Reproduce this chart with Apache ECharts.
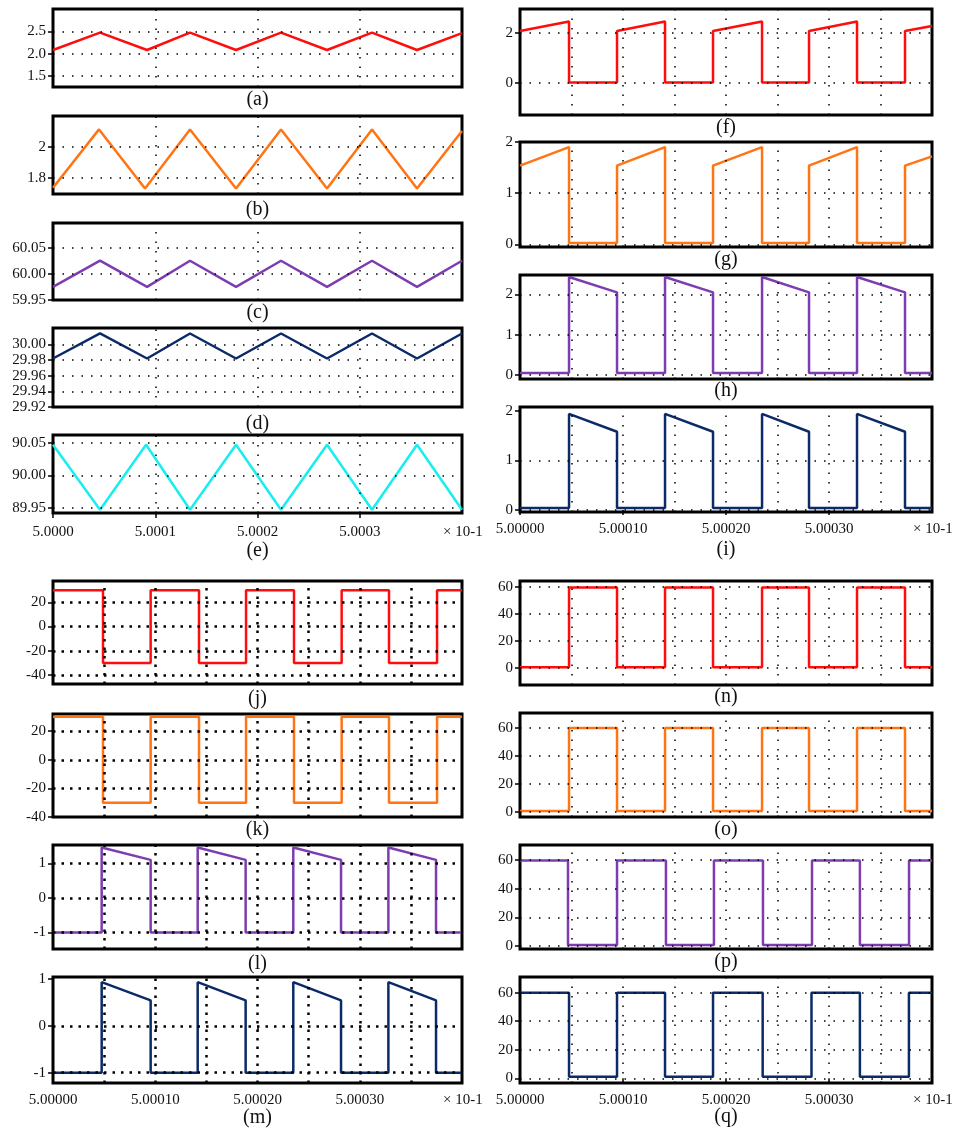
<!DOCTYPE html>
<html>
<head>
  <meta charset="utf-8">
  <title>ECharts</title>
  <script src="https://cdn.jsdelivr.net/npm/echarts@6/dist/echarts.min.js"></script>
  <style>body{margin:0;background:#fff;}</style>
</head>
<body>
<div id="main" style="width: 955px;height:1131px;"></div>
<script type="text/javascript">
  // x values are in units of 1e-4 after 5.0000 (axis shown as "x 10-1")
  var xTicks = [0, 1, 2, 3];
  var xGridCoarse = [1, 2, 3];
  var xGridFine = [0.5, 1, 1.5, 2, 2.5, 3, 3.5];
  var xUnit = '\u00d7 10-1';

  // (a)-(e) triangular ripple
  var aData = [[0,2.08],[0.46,2.47],[0.92,2.08],[1.34,2.47],[1.79,2.08],[2.23,2.47],[2.68,2.08],[3.12,2.47],[3.56,2.08],[4,2.46]];
  var bData = [[0,1.74],[0.45,2.11],[0.9,1.735],[1.34,2.11],[1.79,1.735],[2.23,2.11],[2.68,1.735],[3.12,2.11],[3.56,1.735],[4,2.1]];
  var cData = [[0,59.975],[0.46,60.025],[0.92,59.975],[1.34,60.025],[1.79,59.975],[2.23,60.025],[2.68,59.975],[3.12,60.025],[3.56,59.975],[4,60.025]];
  var dData = [[0,29.982],[0.46,30.014],[0.92,29.982],[1.34,30.014],[1.79,29.982],[2.23,30.014],[2.68,29.982],[3.12,30.014],[3.56,29.982],[4,30.014]];
  var eData = [[0,90.047],[0.46,89.947],[0.91,90.047],[1.34,89.947],[1.79,90.047],[2.23,89.947],[2.68,90.047],[3.12,89.947],[3.56,90.047],[4,89.947]];

  // (f)-(i) switch currents
  var fData = [[0,2.07],[0.476,2.45],[0.476,0],[0.942,0],[0.942,2.07],[1.408,2.45],[1.408,0],[1.874,0],[1.874,2.07],[2.35,2.45],[2.35,0],[2.806,0],[2.806,2.07],[3.272,2.45],[3.272,0],[3.738,0],[3.738,2.07],[4,2.27]];
  var gData = [[0,1.54],[0.476,1.9],[0.476,0.03],[0.942,0.03],[0.942,1.54],[1.408,1.9],[1.408,0.03],[1.874,0.03],[1.874,1.54],[2.35,1.9],[2.35,0.03],[2.806,0.03],[2.806,1.54],[3.272,1.9],[3.272,0.03],[3.738,0.03],[3.738,1.54],[4,1.72]];
  var hData = [[0,0.05],[0.476,0.05],[0.476,2.43],[0.942,2.05],[0.942,0.05],[1.408,0.05],[1.408,2.43],[1.874,2.05],[1.874,0.05],[2.35,0.05],[2.35,2.43],[2.806,2.05],[2.806,0.05],[3.272,0.05],[3.272,2.43],[3.738,2.05],[3.738,0.05],[4,0.05]];
  var iData = [[0,0.04],[0.476,0.04],[0.476,1.94],[0.942,1.58],[0.942,0.04],[1.408,0.04],[1.408,1.94],[1.874,1.58],[1.874,0.04],[2.35,0.04],[2.35,1.94],[2.806,1.58],[2.806,0.04],[3.272,0.04],[3.272,1.94],[3.738,1.58],[3.738,0.04],[4,0.04]];

  // (j)-(m)
  var jData = [[0,30],[0.489,30],[0.489,-30],[0.955,-30],[0.955,30],[1.428,30],[1.428,-30],[1.888,-30],[1.888,30],[2.357,30],[2.357,-30],[2.823,-30],[2.823,30],[3.286,30],[3.286,-30],[3.756,-30],[3.756,30],[4,30]];
  var kData = [[0,30],[0.489,30],[0.489,-30],[0.955,-30],[0.955,30],[1.428,30],[1.428,-30],[1.888,-30],[1.888,30],[2.357,30],[2.357,-30],[2.823,-30],[2.823,30],[3.286,30],[3.286,-30],[3.756,-30],[3.756,30],[4,30]];
  var lData = [[0,-1],[0.476,-1],[0.476,1.46],[0.955,1.1],[0.955,-1],[1.415,-1],[1.415,1.46],[1.884,1.1],[1.884,-1],[2.35,-1],[2.35,1.46],[2.817,1.1],[2.817,-1],[3.28,-1],[3.28,1.46],[3.746,1.1],[3.746,-1],[4,-1]];
  var mData = [[0,-1],[0.476,-1],[0.476,0.93],[0.955,0.54],[0.955,-1],[1.415,-1],[1.415,0.93],[1.884,0.54],[1.884,-1],[2.35,-1],[2.35,0.93],[2.817,0.54],[2.817,-1],[3.28,-1],[3.28,0.93],[3.746,0.54],[3.746,-1],[4,-1]];

  // (n)-(q) switch voltages
  var nData = [[0,0.5],[0.476,0.5],[0.476,59.5],[0.942,59.5],[0.942,0.5],[1.408,0.5],[1.408,59.5],[1.874,59.5],[1.874,0.5],[2.35,0.5],[2.35,59.5],[2.806,59.5],[2.806,0.5],[3.272,0.5],[3.272,59.5],[3.738,59.5],[3.738,0.5],[4,0.5]];
  var oData = [[0,0.8],[0.476,0.8],[0.476,60],[0.942,60],[0.942,0.8],[1.408,0.8],[1.408,60],[1.874,60],[1.874,0.8],[2.35,0.8],[2.35,60],[2.806,60],[2.806,0.8],[3.272,0.8],[3.272,60],[3.738,60],[3.738,0.8],[4,0.8]];
  var pData = [[0,59.5],[0.466,59.5],[0.466,0.8],[0.942,0.8],[0.942,59.5],[1.417,59.5],[1.417,0.8],[1.883,0.8],[1.883,59.5],[2.359,59.5],[2.359,0.8],[2.835,0.8],[2.835,59.5],[3.3,59.5],[3.3,0.8],[3.777,0.8],[3.777,59.5],[4,59.5]];
  var qData = [[0,60],[0.476,60],[0.476,1],[0.942,1],[0.942,60],[1.408,60],[1.408,1],[1.874,1],[1.874,60],[2.356,60],[2.356,1],[2.83,1],[2.83,60],[3.3,60],[3.3,1],[3.776,1],[3.776,60],[4,60]];

  var FONT = '"Liberation Serif", "Times New Roman", serif';
  var RED = '#ff0d0d', ORANGE = '#ff7414', PURPLE = '#7d3cb2', NAVY = '#0b2a68', CYAN = '#18eef0';
  var thinDots = {color: '#000', width: 1.5, type: [1.5, 8]};
  var boldDots = {color: '#000', width: 2.5, type: [2.5, 6]};

  var panels = [
    {tag:'(a)', data:aData, color:RED,    min:1.25,   max:3.0,    ticks:[1.5,2,2.5], grid:[1.5,2,2.5], dec:1, box:[53,9,409,78],   ty:100, xg:xGridCoarse, dots:thinDots},
    {tag:'(b)', data:bData, color:ORANGE, min:1.70,   max:2.195,  ticks:[1.8,2], grid:[1.8,2], dec:null, box:[53,116,409,78], ty:210, xg:xGridCoarse, dots:thinDots},
    {tag:'(c)', data:cData, color:PURPLE, min:59.95,  max:60.097, ticks:[59.95,60,60.05], grid:[60,60.05], dec:2, box:[53,223,409,77], ty:313, xg:xGridCoarse, dots:thinDots},
    {tag:'(d)', data:dData, color:NAVY,   min:29.92,  max:30.021, ticks:[29.92,29.94,29.96,29.98,30], grid:[29.94,29.96,29.98,30], dec:2, box:[53,328,409,79], ty:424, xg:xGridCoarse, dots:thinDots},
    {tag:'(e)', data:eData, color:CYAN,   min:89.942, max:90.062, ticks:[89.95,90,90.05], grid:[89.95,90,90.05], dec:2, box:[53,435,409,78], ty:551, xg:xGridCoarse, dots:thinDots, xdec:4, xm:12},
    {tag:'(f)', data:fData, color:RED,    min:-1.3,   max:2.95,   ticks:[0,2], grid:[0,2], dec:null, box:[520,9,412,106],  ty:128, xg:xGridFine, dots:thinDots},
    {tag:'(g)', data:gData, color:ORANGE, min:-0.05,  max:2.0,    ticks:[0,1,2], grid:[0,1], dec:null, box:[520,142,412,105], ty:260, xg:xGridFine, dots:thinDots},
    {tag:'(h)', data:hData, color:PURPLE, min:-0.1,   max:2.48,   ticks:[0,1,2], grid:[0,1,2], dec:null, box:[520,275,412,104], ty:391, xg:xGridFine, dots:thinDots},
    {tag:'(i)', data:iData, color:NAVY,   min:-0.04,  max:2.08,   ticks:[0,1,2], grid:[0,1], dec:null, box:[520,407,412,105], ty:550, xg:xGridFine, dots:thinDots, xdec:5, xm:10},
    {tag:'(j)', data:jData, color:RED,    min:-47.4,  max:37.6,   ticks:[-40,-20,0,20], grid:[-40,-20,0,20], dec:null, box:[53,581,409,103], ty:699, xg:xGridFine, dots:boldDots},
    {tag:'(k)', data:kData, color:ORANGE, min:-40,    max:32,     ticks:[-40,-20,0,20], grid:[-20,0,20], dec:null, box:[53,714,409,103], ty:830, xg:xGridFine, dots:boldDots},
    {tag:'(l)', data:lData, color:PURPLE, min:-1.48,  max:1.53,   ticks:[-1,0,1], grid:[-1,0,1], dec:null, box:[53,845,409,104], ty:964, xg:xGridFine, dots:boldDots},
    {tag:'(m)', data:mData, color:NAVY,   min:-1.22,  max:1.04,   ticks:[-1,0,1], grid:[-1,0], dec:null, box:[53,977,409,106], ty:1118, xg:xGridFine, dots:boldDots, xdec:5, xm:10},
    {tag:'(n)', data:nData, color:RED,    min:-12.6,  max:64.4,   ticks:[0,20,40,60], grid:[0,20,40,60], dec:null, box:[520,581,412,104], ty:697, xg:xGridFine, dots:thinDots},
    {tag:'(o)', data:oData, color:ORANGE, min:-3.5,   max:70.7,   ticks:[0,20,40,60], grid:[0,20,40,60], dec:null, box:[520,713,412,104], ty:830, xg:xGridFine, dots:thinDots},
    {tag:'(p)', data:pData, color:PURPLE, min:-2,     max:70.3,   ticks:[0,20,40,60], grid:[0,20,40,60], dec:null, box:[520,845,412,104], ty:962, xg:xGridFine, dots:thinDots},
    {tag:'(q)', data:qData, color:NAVY,   min:-3.3,   max:71,     ticks:[0,20,40,60], grid:[0,20,40,60], dec:null, box:[520,977,412,106], ty:1117, xg:xGridFine, dots:thinDots, xdec:5, xm:10}
  ];

  var grids = [], xAxes = [], yAxes = [], series = [], texts = [];
  panels.forEach(function (p, i) {
    grids.push({
      left: p.box[0], top: p.box[1], width: p.box[2], height: p.box[3],
      show: true, borderColor: '#000', borderWidth: 3, backgroundColor: 'transparent',
      outerBoundsMode: 'none'
    });
    var xa = {
      type: 'value', gridIndex: i, min: 0, max: 4,
      splitLine: {show: false}, axisLine: {show: false}
    };
    if (p.xdec) {
      var d = p.xdec;
      xa.axisTick = {show: true, customValues: xTicks, length: 5, lineStyle: {color: '#000', width: 1.5}};
      xa.axisLabel = {
        customValues: xTicks, margin: p.xm, fontSize: 15, fontFamily: FONT, color: '#111',
        formatter: function (v) { return (5 + v / 10000).toFixed(d); }
      };
      // unit note at the right end of the tick label row
      texts.push({
        type: 'text', x: p.box[0] + p.box[2] - 19, y: p.box[1] + p.box[3] + p.xm + 7.5,
        style: {text: xUnit, align: 'left', verticalAlign: 'middle', font: '15px ' + FONT, fill: '#111'}
      });
    } else {
      xa.axisTick = {show: false};
      xa.axisLabel = {show: false};
    }
    xAxes.push(xa);
    var dec = p.dec;
    yAxes.push({
      type: 'value', gridIndex: i, min: p.min, max: p.max,
      splitLine: {show: false}, axisLine: {show: false},
      axisTick: {show: true, customValues: p.ticks, length: 5, lineStyle: {color: '#000', width: 1.5}},
      axisLabel: {
        customValues: p.ticks, margin: 7, fontSize: 15, fontFamily: FONT, color: '#111',
        formatter: function (v) { return dec == null ? String(v) : v.toFixed(dec); }
      }
    });
    var marks = [];
    p.grid.forEach(function (v) { marks.push({yAxis: v}); });
    p.xg.forEach(function (v) { marks.push({xAxis: v}); });
    series.push({
      type: 'line', xAxisIndex: i, yAxisIndex: i, data: p.data,
      showSymbol: false, symbol: 'none',
      lineStyle: {color: p.color, width: 2.5},
      markLine: {
        silent: true, symbol: ['none', 'none'], label: {show: false},
        lineStyle: p.dots, emphasis: {disabled: true},
        data: marks
      }
    });
    texts.push({
      type: 'text', x: p.box[0] + p.box[2] / 2, y: p.ty,
      style: {text: p.tag, align: 'center', verticalAlign: 'middle', font: '20px ' + FONT, fill: '#111'}
    });
  });

  var myChart = echarts.init(document.getElementById('main'));
  var option = {
    animation: false,
    backgroundColor: '#fff',
    grid: grids,
    xAxis: xAxes,
    yAxis: yAxes,
    series: series,
    graphic: texts
  };
  myChart.setOption(option);
</script>
</body>
</html>
